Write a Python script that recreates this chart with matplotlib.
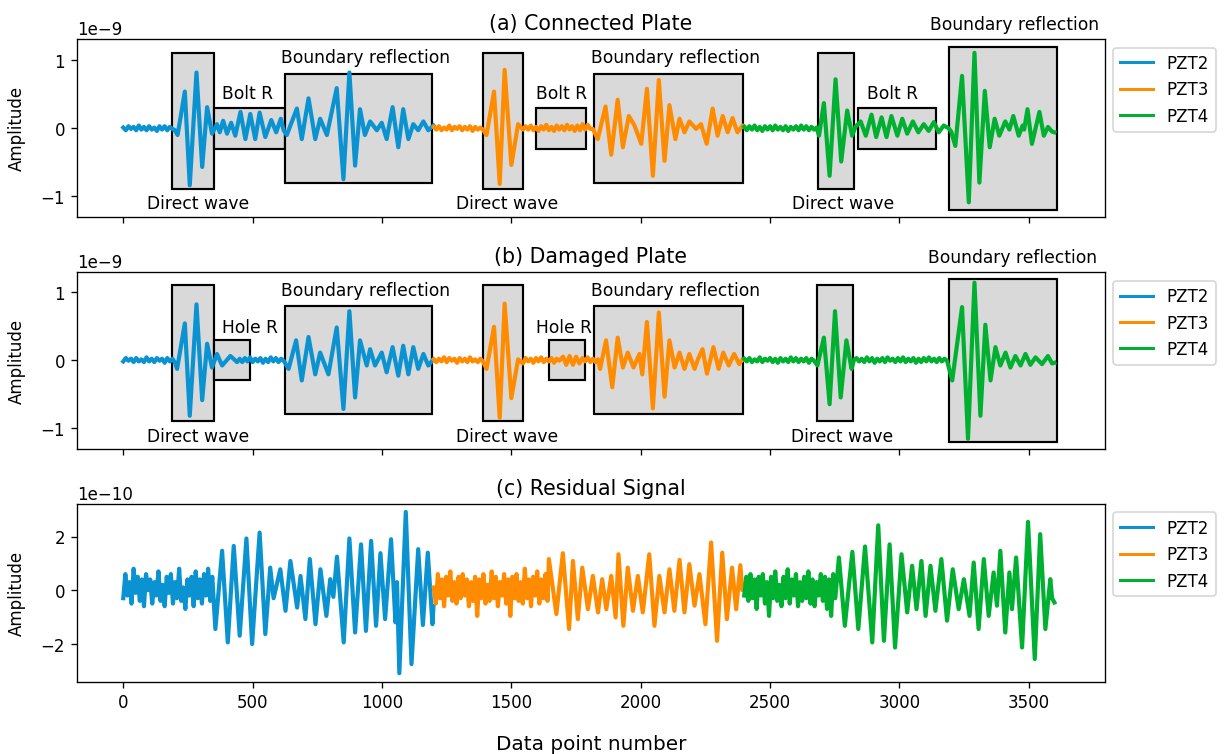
import matplotlib.pyplot as plt
from matplotlib.patches import Rectangle

# sensors and colours
sensors = ['PZT2', 'PZT3', 'PZT4']
colors = ['#0a93d0', '#ff8c00', '#00b030']
titles = ['(a) Connected Plate', '(b) Damaged Plate', '(c) Residual Signal']

# ---------------- (a) connected plate, amplitude in 1e-9 ----------------
a2_x = [0, 10, 20, 30, 40, 50, 60, 70, 80, 90, 100, 110, 120, 130, 140, 150, 160, 170, 180, 190,
        200, 210, 238, 257, 283, 305, 324, 343,
        362, 373, 386, 401, 417, 433, 453, 472, 491, 510, 527, 549, 572, 591, 609, 620,
        632, 671, 690, 716, 742, 761, 787, 825, 851, 874, 896, 915, 934, 954, 980, 999, 1018,
        1041, 1063, 1082, 1102, 1121, 1140, 1160, 1179, 1199]
a2_y = [0.01, -0.03, 0.03, -0.01, 0.02, -0.03, 0.04, -0.02, 0.02, -0.03, 0.03, -0.02, 0.01, -0.04,
        0.03, -0.02, 0.03, -0.03, 0.02, -0.01,
        -0.03, -0.10, 0.54, -0.84, 0.82, -0.57, 0.31, -0.08,
        0.06, -0.06, 0.11, -0.08, 0.08, -0.11, 0.24, -0.16, 0.21, -0.16, 0.23, -0.13, 0.12, -0.06, 0.14, -0.03,
        -0.10, 0.29, -0.16, 0.44, -0.16, 0.14, -0.10, 0.59, -0.75, 0.82, -0.55, 0.28, -0.10, 0.10, -0.03, 0.08, -0.16,
        0.31, -0.28, 0.28, -0.16, 0.06, -0.03, 0.10, -0.03, 0.04]

a3_x = [1200, 1210, 1220, 1230, 1240, 1250, 1260, 1270, 1280, 1290, 1300, 1310, 1320, 1330, 1340,
        1350, 1360, 1370, 1380, 1390,
        1404, 1433, 1455, 1474, 1500, 1526, 1545,
        1555, 1565, 1575, 1585, 1595, 1605, 1615, 1625, 1635, 1645, 1655, 1665, 1675, 1685, 1695,
        1705, 1715, 1725, 1735, 1745, 1755, 1765, 1775, 1785, 1795, 1805,
        1815, 1834, 1864, 1886, 1911, 1931, 1954, 1976, 2002, 2024, 2047, 2070, 2092, 2111, 2134,
        2150, 2169, 2188, 2214, 2233, 2255, 2278, 2297, 2317, 2336, 2355, 2374, 2394, 2399]
a3_y = [0.02, -0.02, 0.03, -0.03, 0.01, -0.02, 0.04, -0.03, 0.02, -0.01, 0.03, -0.03, 0.02, -0.02,
        0.03, -0.04, 0.02, -0.02, 0.01, -0.02,
        -0.10, 0.54, -0.82, 0.86, -0.54, 0.06, -0.02,
        0.03, -0.02, 0.04, -0.03, 0.02, -0.04, 0.03, -0.02, 0.05, -0.03, 0.02, -0.04, 0.04, -0.02, 0.03,
        -0.03, 0.05, -0.02, 0.03, -0.04, 0.04, -0.03, 0.06, -0.02, 0.05, -0.01,
        -0.01, -0.16, 0.32, -0.39, 0.42, -0.28, 0.18, 0.04, -0.23, 0.58, -0.70, 0.71, -0.48, 0.34, -0.16,
        0.14, -0.06, 0.10, -0.01, 0.06, -0.23, 0.29, -0.11, 0.18, -0.06, 0.15, -0.06, 0.04, 0.03]

a4_x = [2400, 2410, 2420, 2430, 2440, 2450, 2460, 2470, 2480, 2490, 2500, 2510, 2520, 2530, 2540,
        2550, 2560, 2570, 2580, 2590, 2600, 2610, 2620, 2630, 2640, 2650, 2660, 2670, 2680,
        2689, 2708, 2730, 2753, 2775, 2798, 2817, 2830,
        2850, 2870, 2892, 2910, 2931, 2950, 2969, 2992, 3011, 3030, 3052, 3073, 3094, 3113, 3133,
        3152, 3171, 3190,
        3200, 3216, 3242, 3268, 3290, 3309, 3330, 3349, 3368, 3386, 3409, 3425, 3440, 3461, 3476,
        3482, 3495, 3512, 3541, 3558, 3574, 3590, 3599]
a4_y = [0.02, -0.03, 0.03, -0.02, 0.04, -0.03, 0.02, -0.04, 0.03, -0.02, 0.03, -0.03, 0.04, -0.02,
        0.02, -0.03, 0.03, -0.04, 0.02, -0.02, 0.03, -0.03, 0.04, -0.02, 0.03, -0.03, 0.02, -0.02, 0.01,
        -0.11, 0.37, -0.70, 0.72, -0.49, 0.26, -0.11, 0.02,
        0.10, -0.11, 0.20, -0.13, 0.16, -0.13, 0.18, -0.11, 0.14, -0.08, 0.10, -0.06, 0.06, -0.04, 0.09,
        -0.06, 0.04, 0.00,
        -0.05, -0.26, 0.77, -1.09, 1.11, -0.80, 0.55, -0.28, 0.14, -0.11, 0.10, -0.02, 0.18, -0.11, 0.04,
        -0.02, 0.28, -0.23, 0.24, -0.11, 0.02, -0.05, -0.06]

# ---------------- (b) damaged plate, amplitude in 1e-9 ----------------
b2_x = [0, 10, 20, 30, 40, 50, 60, 70, 80, 90, 100, 110, 120, 130, 140, 150, 160, 170, 180, 190,
        200, 208, 238, 257, 283, 305, 324, 343, 362, 382, 414, 440,
        450, 460, 470, 480, 490, 500, 510, 520, 530, 540, 550, 560, 570, 580, 590, 600, 610, 620,
        639, 668, 690, 716, 742, 761, 793, 825, 851, 874, 896, 915, 941, 954, 973, 999, 1018,
        1041, 1063, 1082, 1102, 1121, 1140, 1160, 1179, 1196, 1199]
b2_y = [-0.02, 0.03, -0.01, 0.02, -0.03, 0.03, -0.02, 0.01, -0.03, 0.04, -0.02, 0.02, -0.03, 0.03,
        -0.01, 0.02, -0.04, 0.03, -0.02, 0.02,
        -0.04, -0.13, 0.54, -0.82, 0.82, -0.59, 0.24, -0.11, 0.09, -0.08, 0.06, -0.03,
        0.02, -0.03, 0.03, -0.02, 0.04, -0.03, 0.02, -0.02, 0.03, -0.04, 0.02, -0.03, 0.04, -0.02,
        0.03, -0.03, 0.02, -0.01,
        -0.13, 0.29, -0.30, 0.34, -0.21, 0.11, -0.21, 0.48, -0.72, 0.72, -0.55, 0.29, -0.08, 0.16, -0.08,
        0.11, -0.18, 0.19, -0.23, 0.21, -0.21, 0.19, -0.13, 0.09, -0.08, 0.00, 0.01]

b3_x = [1200, 1210, 1220, 1230, 1240, 1250, 1260, 1270, 1280, 1290, 1300, 1310, 1320, 1330, 1340,
        1350, 1360, 1370, 1380, 1390,
        1404, 1433, 1455, 1474, 1500, 1526, 1545,
        1555, 1565, 1575, 1585, 1595, 1605, 1615, 1625, 1635, 1645, 1655, 1665, 1675, 1685,
        1700, 1712, 1725, 1738, 1750, 1763,
        1775, 1785, 1795, 1805, 1815, 1825, 1835,
        1843, 1866, 1890, 1911, 1931, 1950, 1972, 1995, 2006, 2024, 2047, 2070, 2092, 2111, 2131,
        2150, 2169, 2188, 2208, 2222, 2239, 2256, 2281, 2301, 2319, 2340, 2361, 2381, 2391, 2399]
b3_y = [0.01, -0.03, 0.02, -0.02, 0.04, -0.03, 0.03, -0.01, 0.02, -0.04, 0.03, -0.02, 0.02, -0.03,
        0.04, -0.02, 0.01, -0.03, 0.02, -0.02,
        -0.13, 0.49, -0.85, 0.83, -0.56, 0.01, -0.05,
        0.03, -0.02, 0.02, -0.04, 0.03, -0.02, 0.04, -0.03, 0.02, -0.02, 0.03, -0.04, 0.02, -0.01,
        0.05, -0.07, 0.06, -0.07, 0.05, -0.05,
        0.03, -0.02, 0.04, -0.03, 0.02, -0.03, 0.01,
        -0.13, 0.29, -0.40, 0.33, -0.11, 0.11, -0.11, 0.09, -0.21, 0.56, -0.71, 0.70, -0.54, 0.29, -0.11,
        0.11, -0.13, 0.09, -0.13, 0.02, 0.16, -0.20, 0.19, -0.13, 0.11, -0.08, 0.09, -0.06, 0.00, 0.01]

b4_x = [2400, 2410, 2420, 2430, 2440, 2450, 2460, 2470, 2480, 2490, 2500, 2510, 2520, 2530, 2540,
        2550, 2560, 2570, 2580, 2590, 2600, 2610, 2620, 2630, 2640, 2650, 2660, 2670,
        2683, 2708, 2730, 2751, 2773, 2795, 2815, 2824,
        2834, 2844, 2854, 2864, 2874, 2884, 2894, 2904, 2914, 2924, 2934, 2944, 2954, 2964, 2974,
        2984, 2994, 3004, 3014, 3024, 3034, 3044, 3054, 3064, 3074, 3084, 3094, 3104, 3114, 3124,
        3134, 3144, 3154, 3164, 3174, 3184,
        3204, 3242, 3265, 3290, 3313, 3332, 3352, 3371, 3390, 3410, 3429, 3448, 3468, 3487, 3506,
        3526, 3551, 3574, 3590, 3599]
b4_y = [0.02, -0.02, 0.03, -0.03, 0.01, -0.02, 0.04, -0.03, 0.02, -0.01, 0.03, -0.03, 0.02, -0.04,
        0.03, -0.02, 0.02, -0.03, 0.04, -0.02, 0.03, -0.03, 0.02, -0.02, 0.03, -0.04, 0.02, -0.01,
        -0.08, 0.33, -0.65, 0.72, -0.55, 0.29, -0.13, 0.00,
        0.03, -0.02, 0.02, -0.03, 0.04, -0.02, 0.03, -0.04, 0.02, -0.02, 0.03, -0.03, 0.04, -0.01, 0.02,
        -0.03, 0.03, -0.02, 0.04, -0.03, 0.02, -0.02, 0.03, -0.04, 0.02, -0.03, 0.03, -0.02, 0.04, -0.02,
        0.02, -0.03, 0.03, -0.02, 0.02, -0.01,
        -0.30, 0.78, -1.16, 1.14, -0.82, 0.52, -0.30, 0.19, -0.08, 0.11, -0.11, 0.06, -0.08, 0.09, -0.07,
        0.04, -0.06, 0.06, -0.05, -0.04]

# ---------------- (c) residual signal, amplitude in 1e-10 ----------------
c2_x = [0, 8, 16, 24, 32, 40, 48, 56, 64, 72, 80, 88, 96, 104, 112, 120, 128, 136, 144, 152, 160,
        168, 176, 184, 192, 200, 208, 216, 224, 232, 240, 248, 256, 264, 272, 280, 288, 296, 304,
        312, 320, 328, 336, 344,
        356, 382, 404, 427, 450, 476, 498, 527, 549, 568, 581, 607, 627, 646, 672, 685, 704, 721,
        743, 762, 785, 800, 812, 826, 852, 874, 896, 919, 938, 958, 977, 994, 1012, 1035, 1052,
        1058, 1067, 1092, 1114, 1140, 1158, 1177, 1195, 1199]
c2_y = [-0.3, 0.6, -0.2, 0.3, -0.5, 0.8, -0.1, 0.5, -0.4, 0.4, -0.6, 0.6, 0.0, 0.4, -0.5, 0.3, -0.2,
        0.7, -0.4, 0.2, -0.6, 0.5, -0.1, 0.6, -0.5, 0.3, -0.3, 0.8, -0.4, 0.1, -0.7, 0.4, -0.2, 0.5,
        -0.6, 0.7, -0.3, 0.4, -0.5, 0.6, -0.2, 0.8, -0.4, 0.5,
        -1.45, 1.47, -1.95, 1.65, -1.70, 1.93, -2.01, 2.15, -1.64, 0.84, -0.30, 0.78, -0.77, 1.09,
        -0.65, 0.53, -1.08, 1.16, -1.27, 0.78, -0.96, 0.41, -0.25, 1.25, -1.95, 1.93, -1.58, 1.71,
        -1.52, 1.84, -1.33, 1.38, -1.08, 1.90, -1.20, 0.30, -3.10, 2.92, -2.76, 1.53, -1.30, 1.40,
        -1.27, -0.60]

c3_x = [1200, 1208, 1216, 1224, 1232, 1240, 1248, 1256, 1264, 1272, 1280, 1288, 1296, 1304, 1312,
        1320, 1328, 1336, 1344, 1352, 1360, 1368, 1376, 1384, 1392, 1400, 1408, 1416, 1424, 1432,
        1440, 1448, 1456, 1464, 1472, 1480, 1488, 1496, 1504, 1512, 1520, 1528, 1536, 1544, 1552,
        1560, 1568, 1576, 1584, 1592, 1600, 1608, 1616, 1624, 1632, 1640,
        1645, 1674, 1699, 1723, 1738, 1757, 1774, 1796, 1815, 1835, 1851, 1867, 1886, 1903, 1914,
        1933, 1950, 1970, 1989, 2008, 2033, 2053, 2072, 2092, 2111, 2130, 2150, 2169, 2188, 2208,
        2227, 2250, 2272, 2295, 2315, 2333, 2353, 2369, 2385, 2393, 2399]
c3_y = [0.1, -0.5, 0.6, -0.3, 0.4, -0.6, 0.5, -0.2, 0.7, -0.4, 0.3, -0.5, 0.5, -0.3, 0.6, -0.2, 0.4,
        -0.6, 0.3, -0.4, 0.5, -0.96, 0.4, -0.3, 0.6, -0.5, 0.2, -0.4, 0.7, -0.3, 0.5, -0.6, 0.3, -0.2,
        0.6, -0.5, 0.4, -0.96, 0.5, -0.3, 0.6, -0.4, 0.3, -0.5, 0.8, -0.3, 0.4, -0.6, 0.5, -0.2, 0.7,
        -0.5, 0.4, -0.3, 0.6, -0.4,
        1.16, -0.89, 1.38, -1.45, 1.09, -1.08, 0.84, -0.71, 0.53, -0.83, 0.41, -0.71, 0.53, -1.02,
        1.34, -1.33, 0.84, -0.77, 0.53, -0.83, 1.34, -1.33, 0.53, -0.83, 0.78, -0.77, 1.13, -0.83,
        0.97, -0.58, 0.60, -1.27, 1.78, -1.89, 1.40, -1.08, 0.84, -0.71, 0.93, 0.00, 0.20]

c4_x = [2400, 2408, 2416, 2424, 2432, 2440, 2448, 2456, 2464, 2472, 2480, 2488, 2496, 2504, 2512,
        2520, 2528, 2536, 2544, 2552, 2560, 2568, 2576, 2584, 2592, 2600, 2608, 2616, 2624, 2632,
        2640, 2648, 2656, 2664, 2672, 2680, 2688, 2696, 2704, 2712, 2720, 2728, 2736, 2744, 2752,
        2766, 2789, 2818, 2841, 2867, 2895, 2918, 2940, 2962, 2983, 3008, 3030, 3049, 3066, 3085,
        3101, 3120, 3139, 3162, 3184, 3206, 3229, 3249, 3271, 3287, 3306, 3326, 3345, 3364, 3377,
        3390, 3409, 3425, 3435, 3451, 3474, 3497, 3523, 3544, 3564, 3583, 3590, 3599]
c4_y = [-0.2, 0.5, -0.4, 0.6, -0.3, 0.4, -0.7, 0.5, -0.2, 0.6, -0.5, 0.3, -0.96, 0.5, -0.3, 0.7,
        -0.4, 0.2, -0.6, 0.5, -0.3, 0.78, -0.5, 0.4, -0.2, 0.6, -0.6, 0.3, -0.4, 0.5, -0.3, 0.7, -0.5,
        0.4, -0.6, 0.3, -0.2, 0.6, -0.4, 0.5, -0.7, 0.4, -0.96, 0.6, -0.3,
        1.22, -1.33, 1.43, -1.45, 1.63, -1.95, 2.42, -1.89, 1.71, -2.14, 1.34, -0.83, 0.91, -0.71,
        1.09, -0.96, 0.91, -0.77, 1.16, -1.14, 0.78, -0.71, 0.41, -0.96, 1.03, -1.45, 1.16, -0.96,
        0.66, -0.58, 1.47, -1.58, 0.66, -0.71, 1.22, -2.14, 2.55, -2.57, 2.09, -1.45, 0.41, -0.30,
        -0.46]

# highlighted regions: (start, end, low, high) in 1e-9
a_boxes = [(190, 350, -0.9, 1.1), (350, 625, -0.3, 0.3), (625, 1195, -0.8, 0.8),
           (1390, 1545, -0.9, 1.1), (1595, 1790, -0.3, 0.3), (1820, 2395, -0.8, 0.8),
           (2685, 2825, -0.9, 1.1), (2840, 3140, -0.3, 0.3), (3190, 3610, -1.2, 1.2)]
b_boxes = [(190, 350, -0.9, 1.1), (350, 490, -0.3, 0.3), (625, 1195, -0.8, 0.8),
           (1390, 1545, -0.9, 1.1), (1645, 1785, -0.3, 0.3), (1820, 2395, -0.8, 0.8),
           (2680, 2820, -0.9, 1.1), (3190, 3610, -1.2, 1.2)]

a_notes = [('Direct wave', 290, -1.11), ('Direct wave', 1483, -1.11), ('Direct wave', 2782, -1.11),
           ('Bolt R', 480, 0.51), ('Bolt R', 1694, 0.51), ('Bolt R', 2972, 0.51),
           ('Boundary reflection', 936, 1.04), ('Boundary reflection', 2134, 1.04),
           ('Boundary reflection', 3445, 1.53)]
b_notes = [('Direct wave', 290, -1.12), ('Direct wave', 1483, -1.12), ('Direct wave', 2779, -1.12),
           ('Hole R', 488, 0.49), ('Hole R', 1702, 0.49),
           ('Boundary reflection', 936, 1.03), ('Boundary reflection', 2134, 1.03),
           ('Boundary reflection', 3439, 1.51)]


fig = plt.figure(figsize=(10.21, 6.29), dpi=120)
ax_a = fig.add_axes([0.0626, 0.712, 0.8394, 0.235])
ax_b = fig.add_axes([0.0626, 0.404, 0.8394, 0.234])
ax_c = fig.add_axes([0.0626, 0.096, 0.8394, 0.235])

panels = [
    (ax_a, [(a2_x, a2_y), (a3_x, a3_y), (a4_x, a4_y)], 1e-9, a_boxes, a_notes, (-1.30, 1.31)),
    (ax_b, [(b2_x, b2_y), (b3_x, b3_y), (b4_x, b4_y)], 1e-9, b_boxes, b_notes, (-1.31, 1.29)),
    (ax_c, [(c2_x, c2_y), (c3_x, c3_y), (c4_x, c4_y)], 1e-10, [], [], (-3.41, 3.21)),
]

for i, (ax, traces, scale, boxes, notes, ylim) in enumerate(panels):
    for (x0, x1, y0, y1) in boxes:
        ax.add_patch(Rectangle((x0, y0 * scale), x1 - x0, (y1 - y0) * scale,
                               facecolor='#d9d9d9', edgecolor='black', lw=1.3, zorder=1))
    for (xs, ys), name, col in zip(traces, sensors, colors):
        ax.plot(xs, [v * scale for v in ys], color=col, lw=2.5, label=name, zorder=2,
                solid_joinstyle='round')
    for txt, x, y in notes:
        ax.text(x, y * scale, txt, ha='center', va='center', fontsize=10.3)

    ax.set_xlim(-180, 3795)
    ax.set_ylim(ylim[0] * scale, ylim[1] * scale)
    ax.set_xticks([0, 500, 1000, 1500, 2000, 2500, 3000, 3500])
    if scale == 1e-9:
        ax.set_yticks([-1e-9, 0, 1e-9])
    else:
        ax.set_yticks([-2e-10, 0, 2e-10])
    ax.set_title(titles[i], fontsize=12.3)
    ax.set_ylabel('Amplitude', fontsize=10, labelpad=9)
    if i < 2:
        ax.tick_params(labelbottom=False)
    leg = ax.legend(loc='upper left', bbox_to_anchor=(1, 1), fontsize=10)
    for line in leg.get_lines():
        line.set_linewidth(1.8)

ax_c.set_xlabel('Data point number', fontsize=12, labelpad=14)

fig.savefig('out.png', dpi=120)
